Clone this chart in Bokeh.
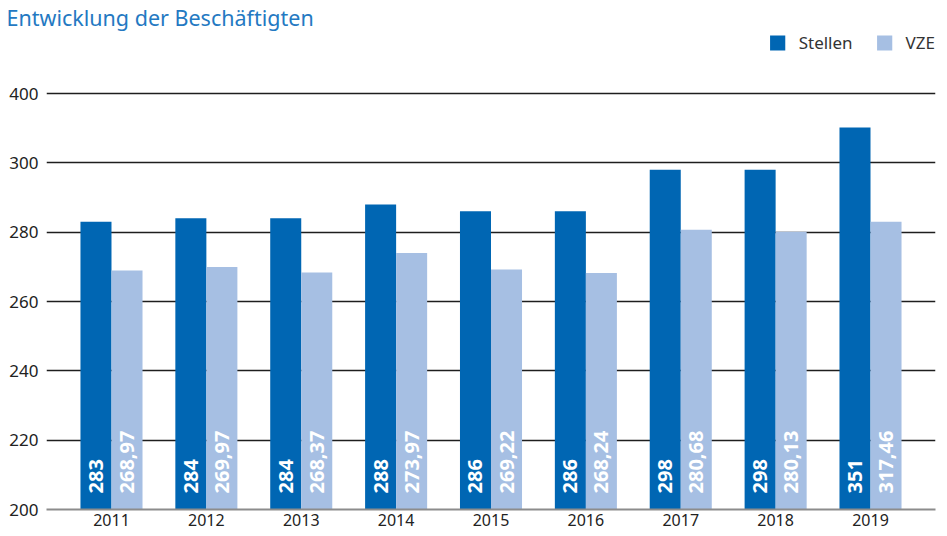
import math
from bokeh.plotting import figure
from bokeh.models import Range1d, FixedTicker, Legend, LegendItem, ColumnDataSource
from bokeh.core.properties import value
from bokeh.embed import file_html
from bokeh.resources import INLINE

# ---- data ----
years = ["2011", "2012", "2013", "2014", "2015", "2016", "2017", "2018", "2019"]
stellen = [283, 284, 284, 288, 286, 286, 298, 298, 351]
vze = [268.97, 269.97, 268.37, 273.97, 269.22, 268.24, 280.68, 280.13, 283.0]
stellen_labels = ["283", "284", "284", "288", "286", "286", "298", "298", "351"]
vze_labels = ["268,97", "269,97", "268,37", "273,97", "269,22", "268,24", "280,68", "280,13", "317,46"]
y_ticks = [200, 220, 240, 260, 280, 300, 400]
series_names = ["Stellen", "VZE"]
title_text = "Entwicklung der Beschäftigten"

# broken axis: 300..400 compressed to one tick step
def disp(v):
    d = v if v <= 300 else 300 + (v - 300) / 5.0
    return int(d) if float(d).is_integer() else d

FONT = "Noto Sans"
C_STELLEN = "#0066b3"
C_VZE = "#a6bfe3"
BAR_W = 0.327
OFF = BAR_W / 2

# layout constants (pixels)
H = 536
FRAME_TOP_EST = 31
BORDER_BOTTOM = 27
FRAME_H = H - FRAME_TOP_EST - BORDER_BOTTOM
PX_PER_UNIT = 416 / 120.0
Y0 = 200
Y1 = Y0 + FRAME_H / PX_PER_UNIT

idx = list(range(len(years)))
src_s = ColumnDataSource(dict(x=[i - OFF for i in idx], top=[disp(v) for v in stellen], lab=stellen_labels))
src_v = ColumnDataSource(dict(x=[i + OFF for i in idx], top=[disp(v) for v in vze], lab=vze_labels))

p = figure(width=947, height=H, output_backend="svg", toolbar_location=None,
           x_range=Range1d(-0.685, 8.685), y_range=Range1d(Y0, Y1),
           min_border_left=46, min_border_right=12, min_border_top=0,
           min_border_bottom=BORDER_BOTTOM)
p.outline_line_color = None
p.background_fill_color = "white"
p.border_fill_color = "white"

# title
p.title.text = title_text
p.title.align = "left"
p.title.offset = -40
p.title.standoff = 0
p.title.text_font = FONT
p.title.text_font_size = "21.5px"
p.title.text_font_style = "normal"
p.title.text_color = "#2479c2"

r_s = p.vbar(x="x", top="top", bottom=Y0, width=BAR_W, source=src_s, fill_color=C_STELLEN, line_color=None)
r_v = p.vbar(x="x", top="top", bottom=Y0, width=BAR_W, source=src_v, fill_color=C_VZE, line_color=None)

for src in (src_s, src_v):
    p.text(x="x", y=Y0, text="lab", source=src, angle=math.pi / 2, y_offset=-16,
           text_align="left", text_baseline="middle", text_color="white",
           text_font=value(FONT), text_font_style="bold", text_font_size="20px")

# axes
p.xaxis.ticker = FixedTicker(ticks=idx)
p.xaxis.major_label_overrides = {i: y for i, y in zip(idx, years)}
p.xaxis.axis_line_color = "#8c8c8c"
p.xaxis.axis_line_width = 2
p.xaxis.major_tick_line_color = None
p.xaxis.minor_tick_line_color = None
p.xaxis.major_tick_out = 0
p.xaxis.major_label_standoff = 4
p.xaxis.major_label_text_font = FONT
p.xaxis.major_label_text_font_size = "16px"
p.xaxis.major_label_text_color = "#222222"

p.yaxis.ticker = FixedTicker(ticks=[disp(t) for t in y_ticks])
p.yaxis.major_label_overrides = {disp(t): str(t) for t in y_ticks}
p.yaxis.axis_line_color = None
p.yaxis.major_tick_line_color = None
p.yaxis.minor_tick_line_color = None
p.yaxis.major_tick_out = 0
p.yaxis.major_label_standoff = 8
p.yaxis.major_label_text_font = FONT
p.yaxis.major_label_text_font_size = "17px"
p.yaxis.major_label_text_color = "#222222"

p.xgrid.grid_line_color = None
p.ygrid.grid_line_color = "#1e1e1e"
p.ygrid.grid_line_width = 1.3

# legend inside the frame, top right
legend = Legend(items=[LegendItem(label=series_names[0], renderers=[r_s]),
                       LegendItem(label=series_names[1], renderers=[r_v])],
                location="top_right", orientation="horizontal",
                glyph_width=19, glyph_height=19, label_standoff=12, spacing=22,
                padding=0, margin=0, border_line_color=None, background_fill_alpha=0,
                label_text_font=FONT, label_text_font_size="17px", label_text_color="#333333",
                label_height=15)
p.add_layout(legend)

open("out.html", "w").write(file_html(p, INLINE))
